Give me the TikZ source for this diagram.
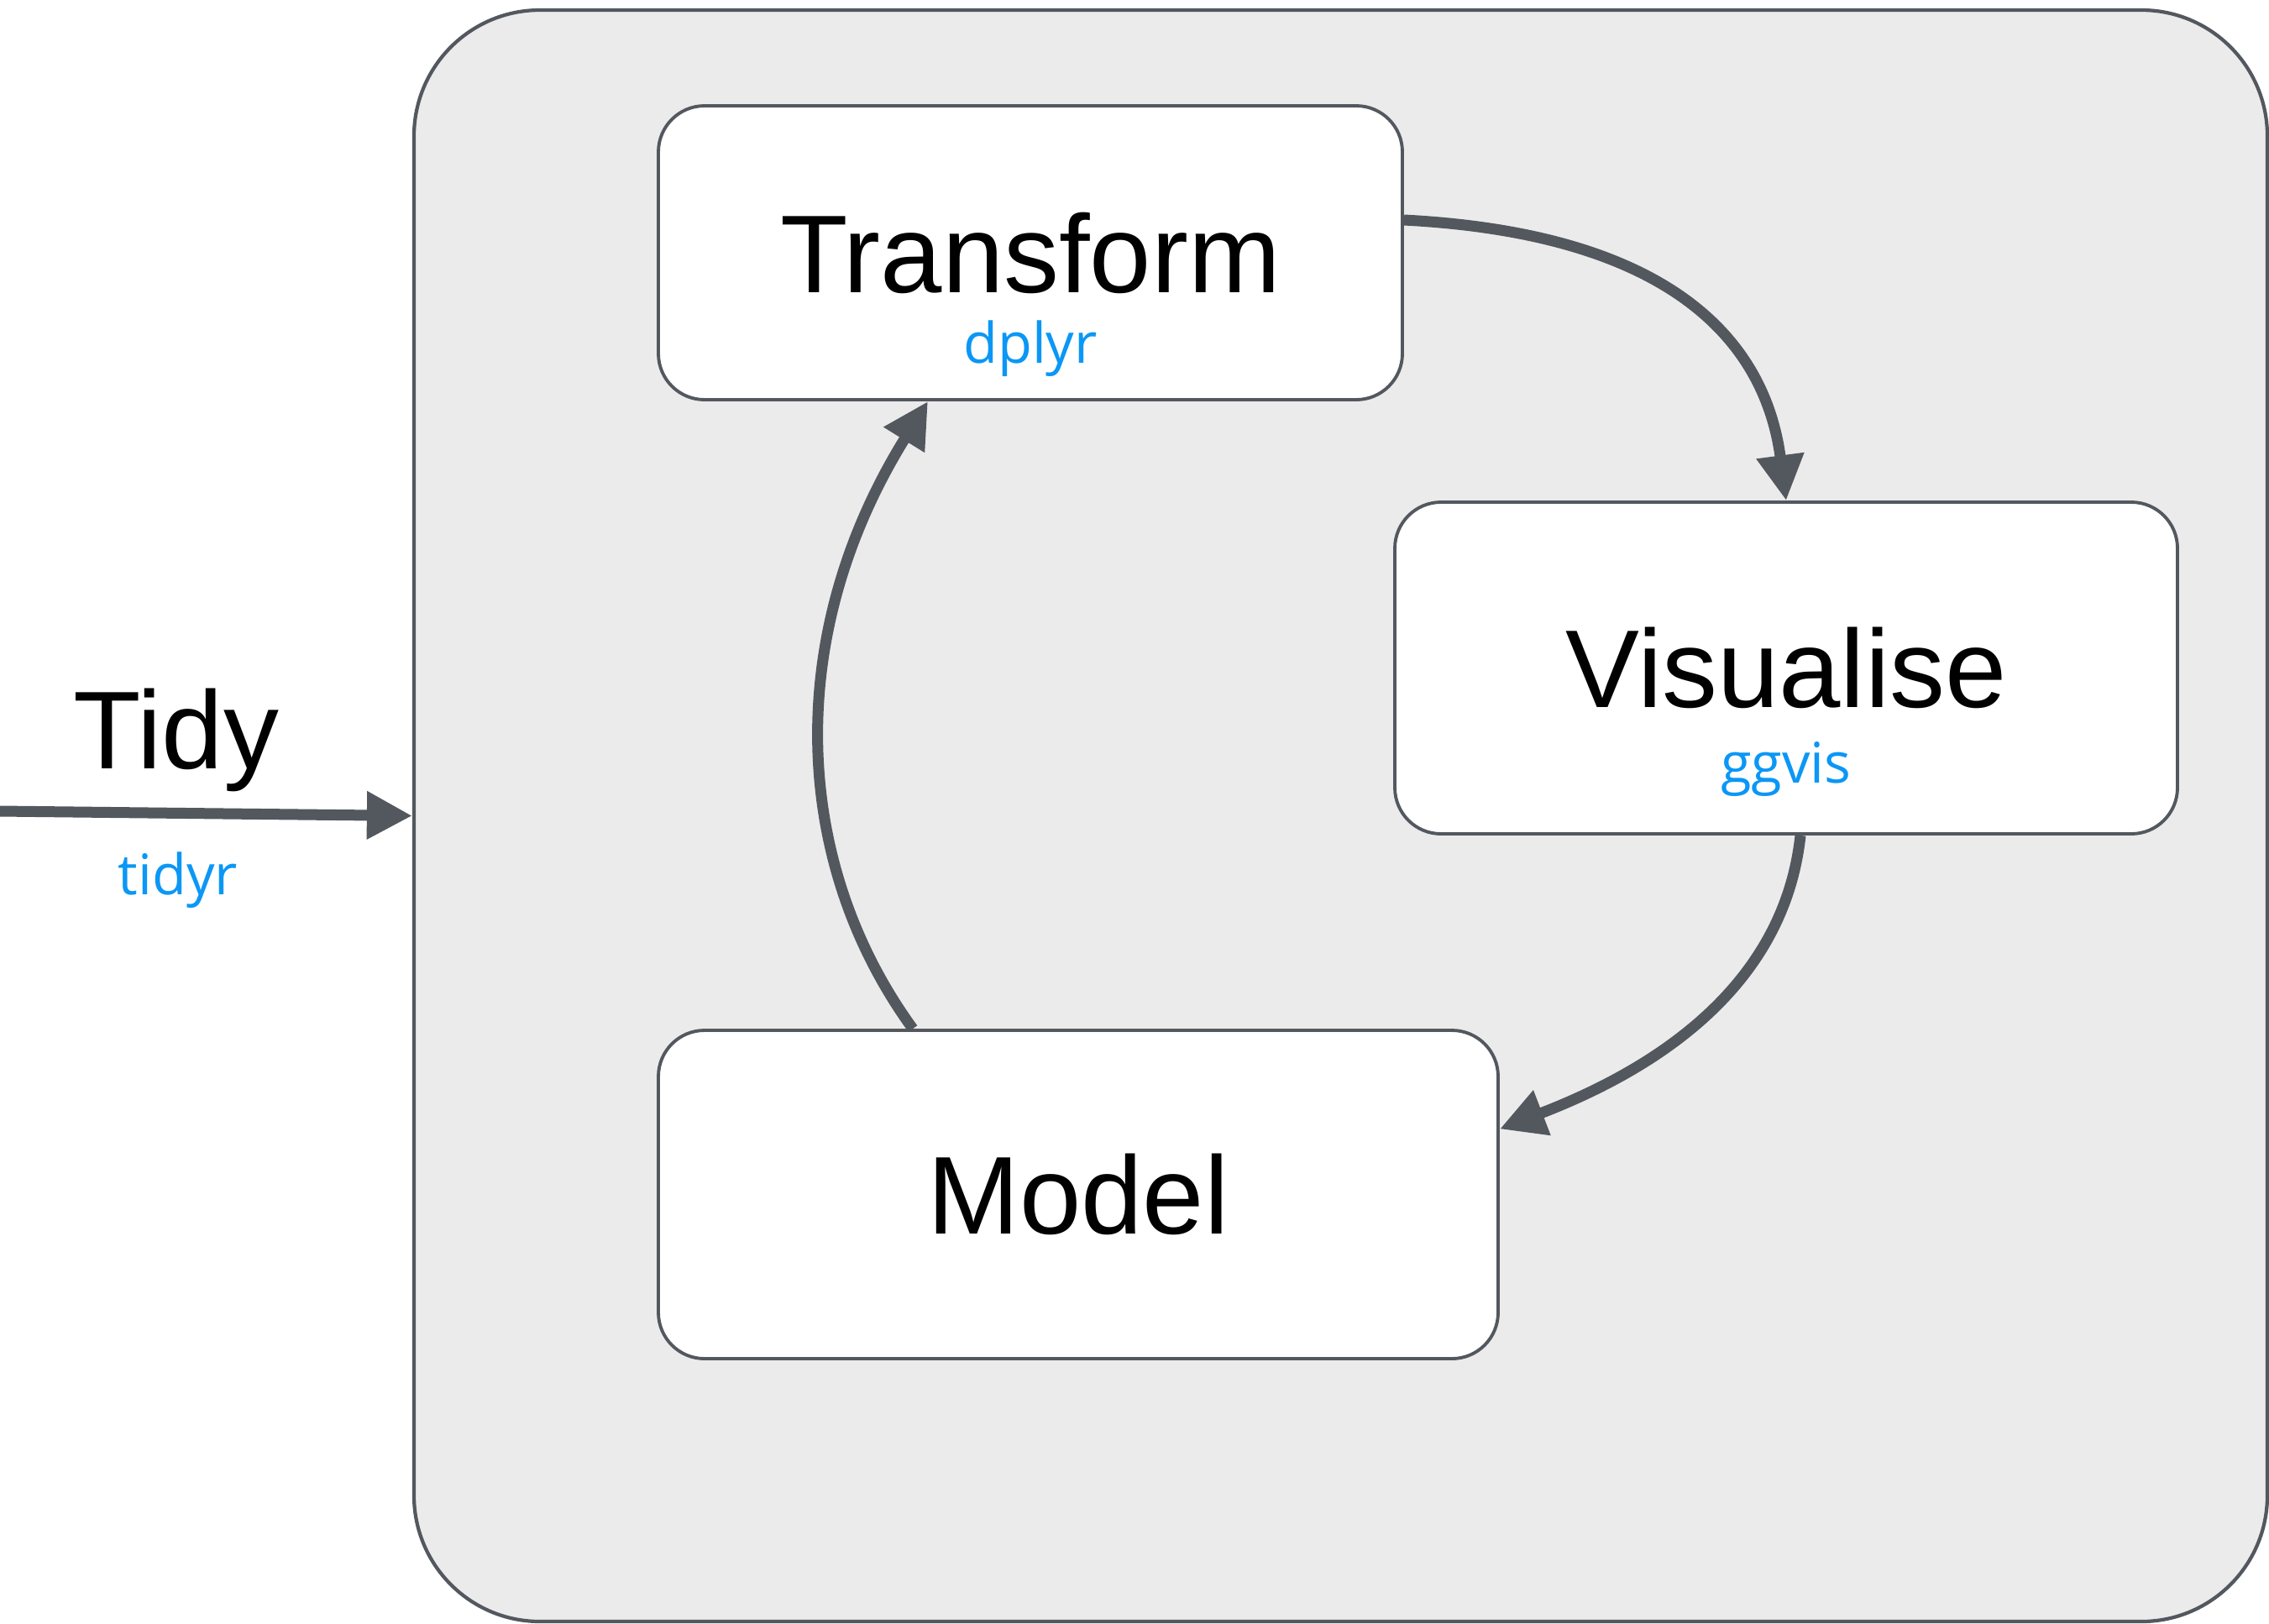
\documentclass[tikz,border=0pt]{standalone}
\usepackage{fontspec}
\usepackage{tikz}
\setmainfont{Liberation Sans}
\newfontfamily\pkgfont{Open Sans}
\definecolor{edge600}{HTML}{53585F}
\definecolor{panel100}{HTML}{EBEBEB}
\definecolor{blue500}{HTML}{0B97F5}
\usetikzlibrary{arrows.meta, positioning}
\tikzstyle{frame}=[draw=edge600, fill=panel100, line width=1.2pt, rounded corners=1.5cm, inner sep=0pt]
\tikzstyle{stage}=[draw=edge600, fill=white, line width=1.1pt, rounded corners=0.55cm, inner sep=0pt, font=\fontsize{37.5}{40}\selectfont]
\tikzstyle{stagetext}=[inner sep=0pt, font=\fontsize{37.5}{40}\selectfont]
\tikzstyle{pkg}=[inner sep=0pt, text=blue500, font=\pkgfont\fontsize{19}{21}\selectfont]
\tikzstyle{flow}=[draw=edge600, line width=3.7pt, -{Triangle[length=5.4mm, width=5.4mm]}]

\begin{document}
\begin{tikzpicture}
				\useasboundingbox (0,0) rectangle (27.02,-19.33);
				\node[frame, minimum width=22.07cm, minimum height=19.19cm] (prog) at (15.965,-9.715) {};
				\node[stage, minimum width=8.86cm, minimum height=3.50cm] (tr) at (12.27,-3.01) {Transform};
				\node[stage, minimum width=9.32cm, minimum height=3.95cm] (vi) at (21.27,-7.955) {Visualise};
				\node[stage, minimum width=10.00cm, minimum height=3.91cm] (mo) at (12.84,-14.225) {Model};
				\node[pkg, anchor=base] (dplyr) at ([yshift=-0.84cm]tr.base) {dplyr};
				\node[pkg, anchor=base] (ggvis) at ([yshift=-0.90cm]vi.base) {ggvis};
				\node[stagetext, anchor=base] (tidy) at (2.10,-9.15) {Tidy};
				\node[pkg, anchor=base] (tidyr) at (2.12,-10.65) {tidyr};
				\coordinate (in) at (0,-9.66);
				\draw[flow] (in) -- (prog.west);
				\draw[flow] ([yshift=0.39cm]tr.east) .. controls (20.2,-2.80) and (21.05,-4.3) .. (vi.north);
				\draw[flow] ([xshift=0.17cm]vi.south) .. controls (21.25,-11.7) and (19.8,-12.7) .. ([yshift=0.78cm]mo.east);
				\draw[flow] ([xshift=-1.97cm]mo.north) .. controls (9.45,-10.3) and (9.3,-7.6) .. ([xshift=-1.22cm]tr.south);
			\end{tikzpicture}
\end{document}
